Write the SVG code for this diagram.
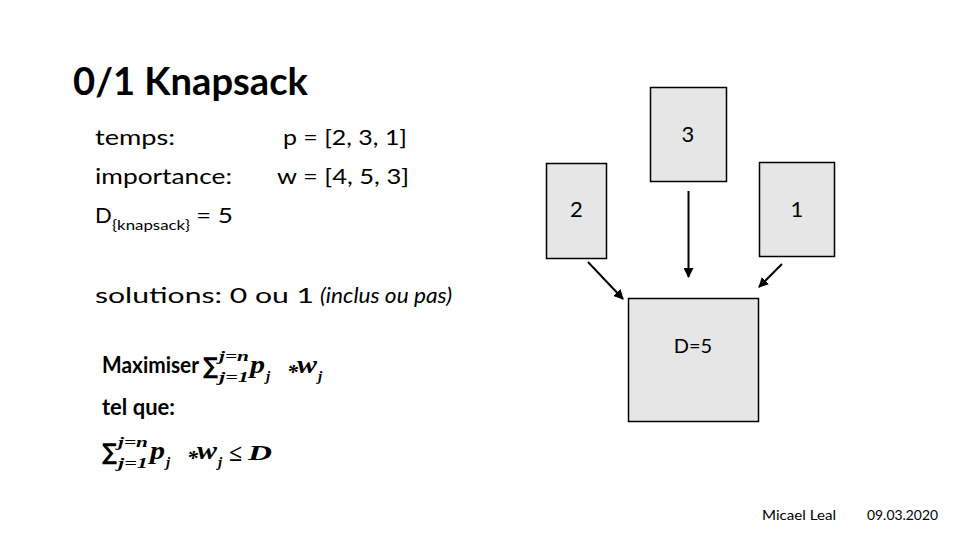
<svg xmlns="http://www.w3.org/2000/svg" width="960" height="540" viewBox="0 0 960 540">
<defs>
<style>
.s{font-family:Lato,"Open Sans","Liberation Sans",sans-serif;fill:#000}
.m{font-family:"Liberation Serif","DejaVu Serif",serif;font-weight:bold;font-style:italic;fill:#000}
.sig{font-family:"DejaVu Sans",sans-serif;font-weight:bold;fill:#000}
.box{fill:#e6e6e6;stroke:#000;stroke-width:1.5}
.arr{stroke:#000;stroke-width:2;fill:none;marker-end:url(#ah)}
</style>
<marker id="ah" viewBox="0 0 10 10" refX="9" refY="5" markerWidth="5" markerHeight="5" orient="auto" markerUnits="strokeWidth">
<path d="M0,0 L10,5 L0,10 z" fill="#000"/>
</marker>
</defs>
<rect width="960" height="540" fill="#fff"/>
<text class="s" x="73" y="95" font-size="38" font-weight="bold" textLength="235" lengthAdjust="spacingAndGlyphs">0/1 Knapsack</text>
<g class="s" font-size="22">
<text x="95" y="145" textLength="80" lengthAdjust="spacingAndGlyphs">temps:</text>
<text x="95" y="184" textLength="137" lengthAdjust="spacingAndGlyphs">importance:</text>
<text x="95" y="223">D</text>
<text x="112" y="230" font-size="14" textLength="78" lengthAdjust="spacingAndGlyphs">{knapsack}</text>
<text x="196" y="223" textLength="37" lengthAdjust="spacingAndGlyphs">= 5</text>
<text x="283" y="145" textLength="124" lengthAdjust="spacingAndGlyphs">p = [2, 3, 1]</text>
<text x="277" y="184" textLength="132" lengthAdjust="spacingAndGlyphs">w = [4, 5, 3]</text>
<text x="95" y="303" textLength="219" lengthAdjust="spacingAndGlyphs">solutions: 0 ou 1</text>
<text x="320" y="303" font-style="italic" textLength="132" lengthAdjust="spacingAndGlyphs">(inclus ou pas)</text>
</g>
<g id="formula1">
<text class="s" x="102" y="373" font-size="22" font-weight="bold" textLength="97" lengthAdjust="spacingAndGlyphs">Maximiser</text>
<text class="sig" x="203" y="374" font-size="23" textLength="15" lengthAdjust="spacingAndGlyphs">∑</text>
<text class="m" x="219" y="361" font-size="15" textLength="30" lengthAdjust="spacingAndGlyphs">j=n</text>
<text class="m" x="219" y="382" font-size="15" textLength="30" lengthAdjust="spacingAndGlyphs">j=1</text>
<text class="m" x="250" y="373" font-size="25" textLength="15" lengthAdjust="spacingAndGlyphs">p</text>
<text class="m" x="266" y="381" font-size="15">j</text>
<text class="m" x="287" y="379" font-size="22" font-style="normal">*</text>
<text class="m" x="297" y="373" font-size="25" textLength="20" lengthAdjust="spacingAndGlyphs">w</text>
<text class="m" x="318" y="381" font-size="15">j</text>
</g>
<text class="s" x="102" y="415" font-size="22" font-weight="bold" textLength="73" lengthAdjust="spacingAndGlyphs">tel que:</text>
<g id="formula2">
<text class="sig" x="102" y="460" font-size="23" textLength="15" lengthAdjust="spacingAndGlyphs">∑</text>
<text class="m" x="118" y="447" font-size="15" textLength="30" lengthAdjust="spacingAndGlyphs">j=n</text>
<text class="m" x="118" y="468" font-size="15" textLength="30" lengthAdjust="spacingAndGlyphs">j=1</text>
<text class="m" x="150" y="459" font-size="25" textLength="15" lengthAdjust="spacingAndGlyphs">p</text>
<text class="m" x="166" y="467" font-size="15">j</text>
<text class="m" x="187" y="465" font-size="22" font-style="normal">*</text>
<text class="m" x="197" y="459" font-size="25" textLength="20" lengthAdjust="spacingAndGlyphs">w</text>
<text class="m" x="218" y="467" font-size="15">j</text>
<text class="m" x="229" y="461" font-size="24" font-style="normal" textLength="13" lengthAdjust="spacingAndGlyphs">≤</text>
<text class="m" x="248" y="460" font-size="21" textLength="24" lengthAdjust="spacingAndGlyphs">D</text>
</g>
<g id="item3">
<rect class="box" x="650.5" y="87.5" width="76" height="94"/>
<text class="s" x="688" y="142" font-size="22" text-anchor="middle">3</text>
</g>
<g id="item2">
<rect class="box" x="546.5" y="163.5" width="60" height="95"/>
<text class="s" x="576.5" y="217" font-size="22" text-anchor="middle">2</text>
</g>
<g id="item1">
<rect class="box" x="759.5" y="162.5" width="75" height="94"/>
<text class="s" x="797" y="217" font-size="22" text-anchor="middle">1</text>
</g>
<g id="knapsack">
<rect class="box" x="628.5" y="298.5" width="130" height="123"/>
<text class="s" x="693" y="353" font-size="20" text-anchor="middle">D=5</text>
</g>
<g id="connectors">
<line class="arr" x1="688.5" y1="191" x2="688.5" y2="277"/>
<line class="arr" x1="588" y1="262" x2="623" y2="299"/>
<line class="arr" x1="782" y1="264" x2="759" y2="287"/>
</g>
<text class="s" x="762" y="520" font-size="14" textLength="74" lengthAdjust="spacingAndGlyphs">Micael Leal</text>
<text class="s" x="867" y="520" font-size="14" textLength="71" lengthAdjust="spacingAndGlyphs">09.03.2020</text>
</svg>
